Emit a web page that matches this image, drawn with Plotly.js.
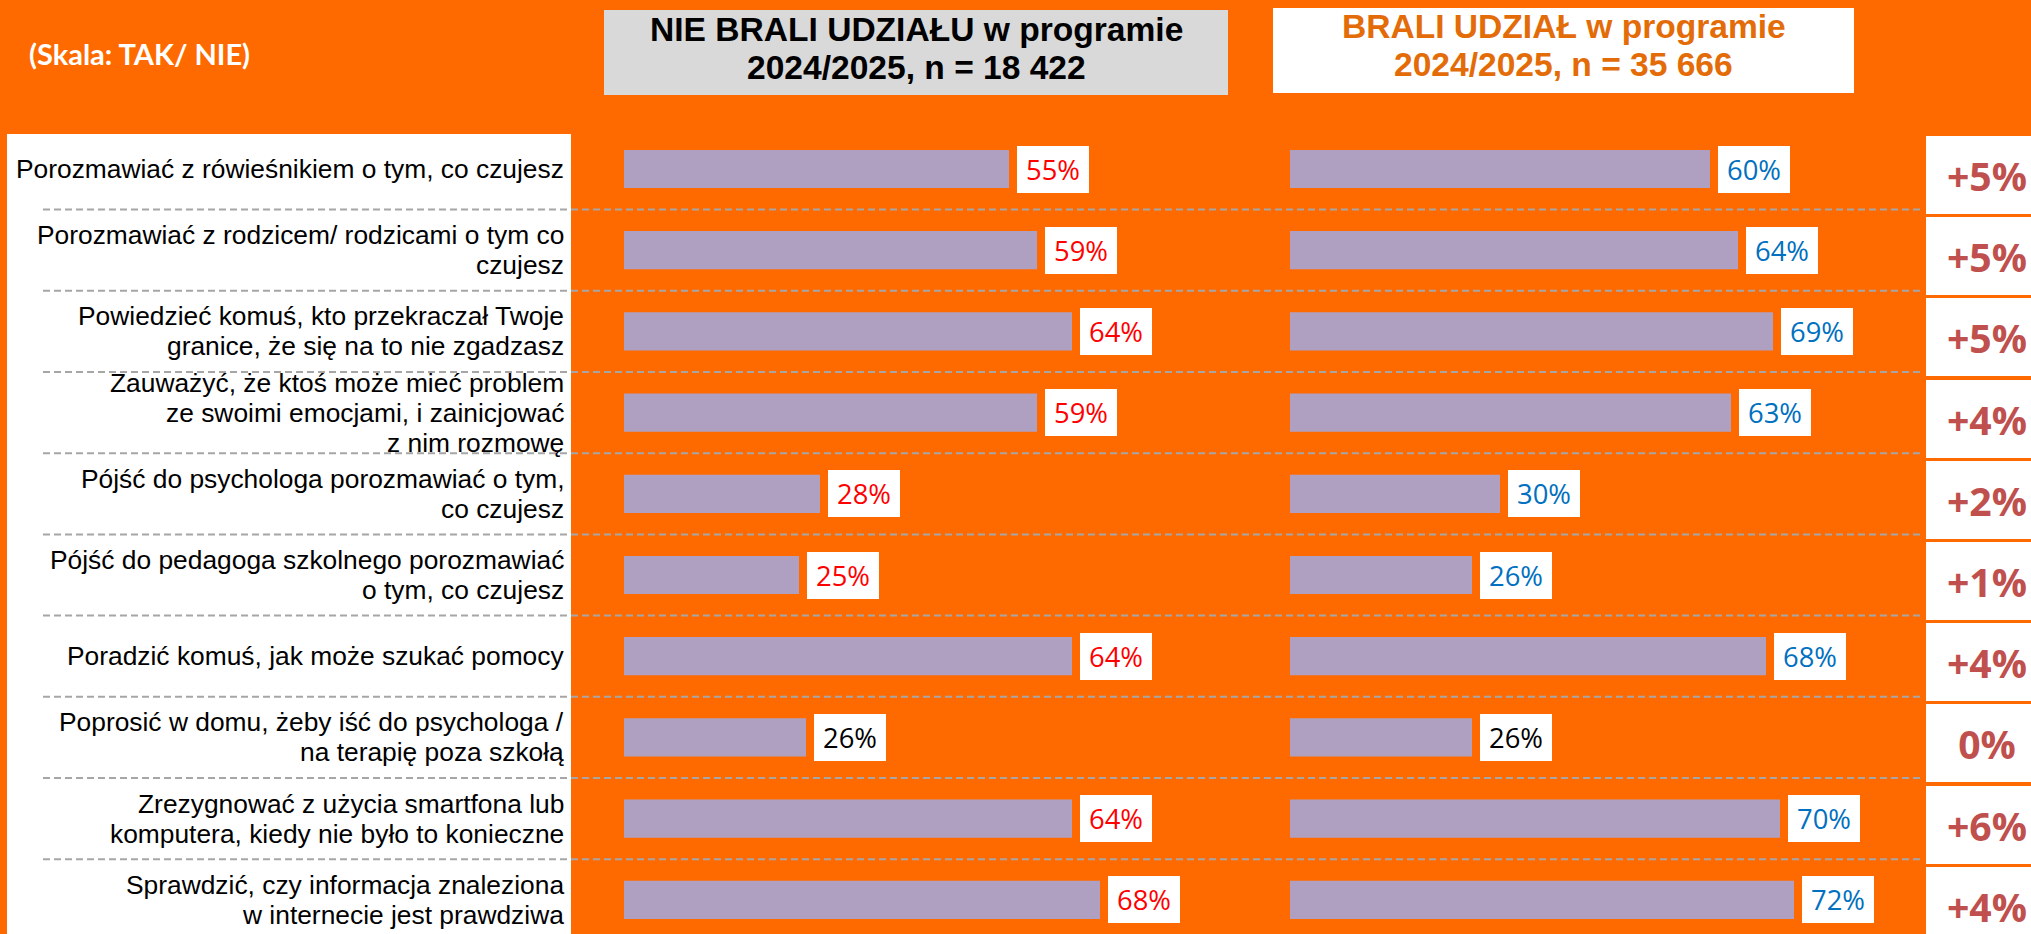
<!DOCTYPE html>
<html><head><meta charset="utf-8">
<script src="https://cdn.plot.ly/plotly-3.0.1.min.js"></script>
<style>html,body{margin:0;padding:0;overflow:hidden;background:#FF6A00}</style>
</head><body><div id="chart" style="width:2031px;height:934px"></div>
<script>
// ---- data ----
const categories = [
  'Porozmawiać z rówieśnikiem o tym, co czujesz',
  'Porozmawiać z rodzicem/ rodzicami o tym co<br>czujesz',
  'Powiedzieć komuś, kto przekraczał Twoje<br>granice, że się na to nie zgadzasz',
  'Zauważyć, że ktoś może mieć problem<br>ze swoimi emocjami, i zainicjować<br>z nim rozmowę',
  'Pójść do psychologa porozmawiać o tym,<br>co czujesz',
  'Pójść do pedagoga szkolnego porozmawiać<br>o tym, co czujesz',
  'Poradzić komuś, jak może szukać pomocy',
  'Poprosić w domu, żeby iść do psychologa /<br>na terapię poza szkołą',
  'Zrezygnować z użycia smartfona lub<br>komputera, kiedy nie było to konieczne',
  'Sprawdzić, czy informacja znaleziona<br>w internecie jest prawdziwa'
];
const notParticipated = [55, 59, 64, 59, 28, 25, 64, 26, 64, 68];
const participated    = [60, 64, 69, 63, 30, 26, 68, 26, 70, 72];
const changeLabels = ['+5%', '+5%', '+5%', '+4%', '+2%', '+1%', '+4%', '0%', '+6%', '+4%'];
const headerLeft  = ['NIE BRALI UDZIAŁU w programie', '2024/2025, n = 18 422'];
const headerRight = ['BRALI UDZIAŁ w programie', '2024/2025, n = 35 666'];
const scaleNote = '(Skala: TAK/ NIE)';

// ---- styling / layout helpers ----
const W = 2031, H = 934;
const ORANGE = '#FF6A00', BAR = '#AFA0C2';
const TEXT_FONT = '"Liberation Sans", Arial, sans-serif';
const NOTE_FONT = 'Lato, "DejaVu Sans", sans-serif';
const VAL_FONT = '"Open Sans", "DejaVu Sans", sans-serif';
const ctx = document.createElement('canvas').getContext('2d');
function fit(text, family, weight, target) {
  ctx.font = weight + ' 100px ' + family;
  return 100 * target / ctx.measureText(text).width;
}
function boxRatio(family, weight) {
  ctx.font = weight + ' 100px ' + family;
  const m = ctx.measureText('Ag');
  const r = (m.fontBoundingBoxAscent + m.fontBoundingBoxDescent) / 100;
  return isFinite(r) && r > 0 ? r : 1.15;
}
const px = x => x / W, py = y => 1 - y / H;

const TF = "'Liberation Sans'";
const labelSize = fit('Porozmawiać z rówieśnikiem o tym, co czujesz', TF, 'normal', 548);
const labelStep = Math.max(28.5, labelSize * boxRatio(TF, 'normal') + 0.4);
const valSize = fit('69%', "'Open Sans'", 'normal', 54);
const deltaSize = fit('+5%', "'Open Sans'", 'bold', 80);
const headSize = Math.min(fit(headerLeft[0], TF, 'bold', 570), 37.6 / boxRatio(TF, 'bold'));
const noteSize = fit(scaleNote, 'Lato', 'bold', 222);

const rowTop = 169, rowStep = 81.2;
const yRange = [(H - rowTop) / rowStep, -rowTop / rowStep];
const pxPerPct = 7.0, axisLen = 560;

const traces = [
  {type: 'bar', orientation: 'h', x: notParticipated, y: categories, xaxis: 'x', yaxis: 'y',
   marker: {color: BAR}, width: 0.47, hoverinfo: 'skip'},
  {type: 'bar', orientation: 'h', x: participated, y: categories, xaxis: 'x2', yaxis: 'y',
   marker: {color: BAR}, width: 0.47, hoverinfo: 'skip'}
];

const shapes = [
  {type: 'rect', xref: 'paper', yref: 'paper', x0: px(7), x1: px(571), y0: 0, y1: py(134),
   fillcolor: '#FFFFFF', line: {width: 0}, layer: 'below'},
  {type: 'rect', xref: 'paper', yref: 'paper', x0: px(604), x1: px(1228), y0: py(95), y1: py(10),
   fillcolor: '#D9D9D9', line: {width: 0}, layer: 'below'},
  {type: 'rect', xref: 'paper', yref: 'paper', x0: px(1273), x1: px(1854), y0: py(93), y1: py(8),
   fillcolor: '#FFFFFF', line: {width: 0}, layer: 'below'}
];
for (let i = 0; i < categories.length - 1; i++) {
  shapes.push({type: 'line', xref: 'paper', yref: 'y', x0: px(43), x1: px(1920), y0: i + 0.5, y1: i + 0.5,
    line: {color: '#A6A6A6', width: 2, dash: '7px,4px'}, layer: 'below'});
}

const annotations = [];
annotations.push({xref: 'paper', yref: 'paper', x: px(27), y: py(54), xanchor: 'left', yanchor: 'middle',
  text: '<b>' + scaleNote + '</b>', showarrow: false, font: {family: NOTE_FONT, size: noteSize, color: '#FFFFFF'}});
[[headerLeft, 916, [29.5, 67.5], '#000000'], [headerRight, 1563.5, [27, 65], '#E36C09']].forEach(([lines, cx, ys, col]) => {
  lines.forEach((t, j) => annotations.push({xref: 'paper', yref: 'paper', x: px(cx), y: py(ys[j]),
    xanchor: 'center', yanchor: 'middle', text: '<b>' + t + '</b>', showarrow: false,
    font: {family: TEXT_FONT, size: headSize, color: col}}));
});

categories.forEach((cat, i) => {
  const lines = cat.split('<br>');
  const n = lines.length;
  lines.forEach((t, j) => annotations.push({xref: 'paper', yref: 'y', x: px(566), y: cat,
    xanchor: 'right', yanchor: 'middle', yshift: ((n - 1) / 2 - j) * labelStep, text: t, showarrow: false,
    font: {family: TEXT_FONT, size: labelSize, color: '#000000'}}));
  const same = changeLabels[i] === '0%';
  annotations.push({xref: 'x', yref: 'y', x: notParticipated[i], y: cat, xanchor: 'left', yanchor: 'middle',
    xshift: 8, width: 72, height: 47, bgcolor: '#FFFFFF', borderpad: 0, borderwidth: 0,
    text: notParticipated[i] + '%', showarrow: false,
    font: {family: VAL_FONT, size: valSize, color: same ? '#000000' : '#FF0000'}});
  annotations.push({xref: 'x2', yref: 'y', x: participated[i], y: cat, xanchor: 'left', yanchor: 'middle',
    xshift: 8, width: 72, height: 47, bgcolor: '#FFFFFF', borderpad: 0, borderwidth: 0,
    text: participated[i] + '%', showarrow: false,
    font: {family: VAL_FONT, size: valSize, color: same ? '#000000' : '#0070C0'}});
  annotations.push({xref: 'paper', yref: 'y', x: px(1926), y: cat, xanchor: 'left', yanchor: 'middle',
    yshift: -6, width: 122, height: 78, bgcolor: '#FFFFFF', borderpad: 0, borderwidth: 0,
    text: '<b>' + changeLabels[i] + '</b>', showarrow: false,
    font: {family: VAL_FONT, size: deltaSize, color: '#C0504D'}});
});

const layout = {
  width: W, height: H, margin: {l: 0, r: 0, t: 0, b: 0, pad: 0},
  paper_bgcolor: ORANGE, plot_bgcolor: 'rgba(0,0,0,0)',
  showlegend: false, barmode: 'overlay', hovermode: false,
  xaxis: {domain: [px(624), px(624 + axisLen)], range: [0, axisLen / pxPerPct], visible: false, anchor: 'y'},
  xaxis2: {domain: [px(1290), px(1290 + axisLen)], range: [0, axisLen / pxPerPct], visible: false, anchor: 'y'},
  yaxis: {type: 'category', categoryorder: 'array', categoryarray: categories, range: yRange,
    autorange: false, visible: false, domain: [0, 1]},
  shapes: shapes, annotations: annotations
};
Plotly.newPlot('chart', traces, layout, {staticPlot: true, displayModeBar: false});
</script></body></html>
